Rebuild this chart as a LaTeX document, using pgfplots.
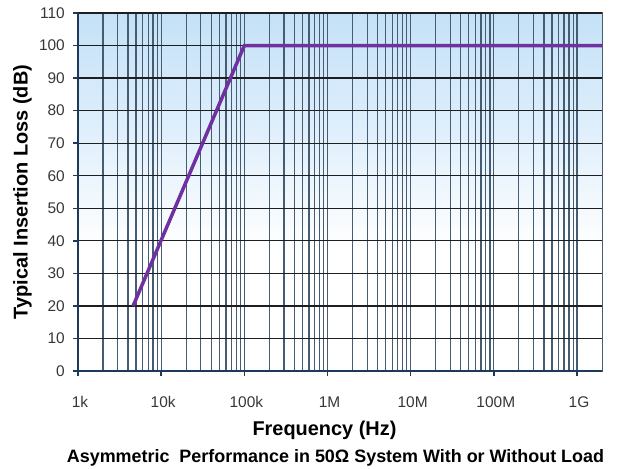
\documentclass[border=0pt]{standalone}
\usepackage{fontspec}
\setmainfont{Liberation Sans}
\usepackage{pgfplots}
\pgfplotsset{compat=1.18}
\usetikzlibrary{calc}
\definecolor{bgtop}{RGB}{196,225,247}
\definecolor{bgmid}{RGB}{228,241,252}
\definecolor{gridv}{RGB}{70,92,112}
\definecolor{gridh}{RGB}{30,30,30}
\definecolor{axnavy}{RGB}{30,58,90}
\definecolor{lpurple}{RGB}{112,48,160}
\definecolor{ticktxt}{RGB}{55,55,55}
\pgfdeclareverticalshading{chartbg}{100bp}{color(0bp)=(white); color(25bp)=(white); color(42bp)=(white); color(56bp)=(bgmid); color(75bp)=(bgtop); color(100bp)=(bgtop)}
\begin{document}
\begin{tikzpicture}
\begin{axis}[
  scale only axis,
  width=524bp, height=358bp,
  xmode=log, log basis x=10,
  xmin=1e3, xmax=2e9,
  ymin=0, ymax=110,
  xtick={1e3,1e4,1e5,1e6,1e7,1e8,1e9},
  xticklabels={1k,10k,100k,1M,10M,100M,1G},
  minor xtick={2e3,3e3,4e3,5e3,6e3,7e3,8e3,9e3,
               2e4,3e4,4e4,5e4,6e4,7e4,8e4,9e4,
               2e5,3e5,4e5,5e5,6e5,7e5,8e5,9e5,
               2e6,3e6,4e6,5e6,6e6,7e6,8e6,9e6,
               2e7,3e7,4e7,5e7,6e7,7e7,8e7,9e7,
               2e8,3e8,4e8,5e8,6e8,7e8,8e8,9e8},
  ytick={0,10,...,110},
  xmajorgrids, xminorgrids, ymajorgrids,
  major x grid style={gridv, line width=1.3bp},
  minor x grid style={gridv, line width=1.3bp},
  major y grid style={gridh, line width=1.2bp},
  tick align=outside,
  major tick length=5bp,
  minor tick length=0pt,
  tick style={axnavy, line width=1.5bp},
  xtick pos=bottom, ytick pos=left,
  axis line style={gridv, line width=1bp},
  axis background/.style={shade, shading=chartbg},
  tick label style={font=\fontsize{15.5}{18}\selectfont, text=ticktxt},
  /pgf/number format/assume math mode=true,
  xticklabel style={anchor=base, inner sep=0pt, yshift=-31bp, xshift=2bp},
  yticklabel style={anchor=east, inner sep=0pt, xshift=-8bp},
  xlabel={Frequency (Hz)},
  ylabel={Typical Insertion Loss (dB)},
  xlabel style={at={(axis description cs:0.4704,-0.1788)}, anchor=base, inner sep=0pt, font=\fontsize{20}{24}\selectfont\bfseries},
  ylabel style={at={(axis description cs:-0.106,0.5)}, anchor=center, inner sep=0pt, font=\fontsize{20}{24}\selectfont\bfseries},
]
\addplot[lpurple, line width=3.5bp] coordinates {(4600,20) (100000,100) (2e9,100)};
\coordinate (SW) at (rel axis cs:0,0);
\coordinate (SE) at (rel axis cs:1,0);
\coordinate (NW) at (rel axis cs:0,1);
\coordinate (NE) at (rel axis cs:1,1);
\end{axis}
\draw[gridh, line width=1bp] (NW) -- (NE);
\draw[axnavy, line width=2bp] (NW) -- (SW) -- (SE);
\node[anchor=base, inner sep=0pt, font=\fontsize{18}{22}\selectfont\bfseries] at ($(SW)!0.4914!(SE)+(0,-91bp)$) {Asymmetric\ \ Performance in 50Ω System With or Without Load};
\pgfresetboundingbox
\path ($(SW)+(-78bp,-98bp)$) rectangle ($(NE)+(20bp,13bp)$);
\end{tikzpicture}
\end{document}
